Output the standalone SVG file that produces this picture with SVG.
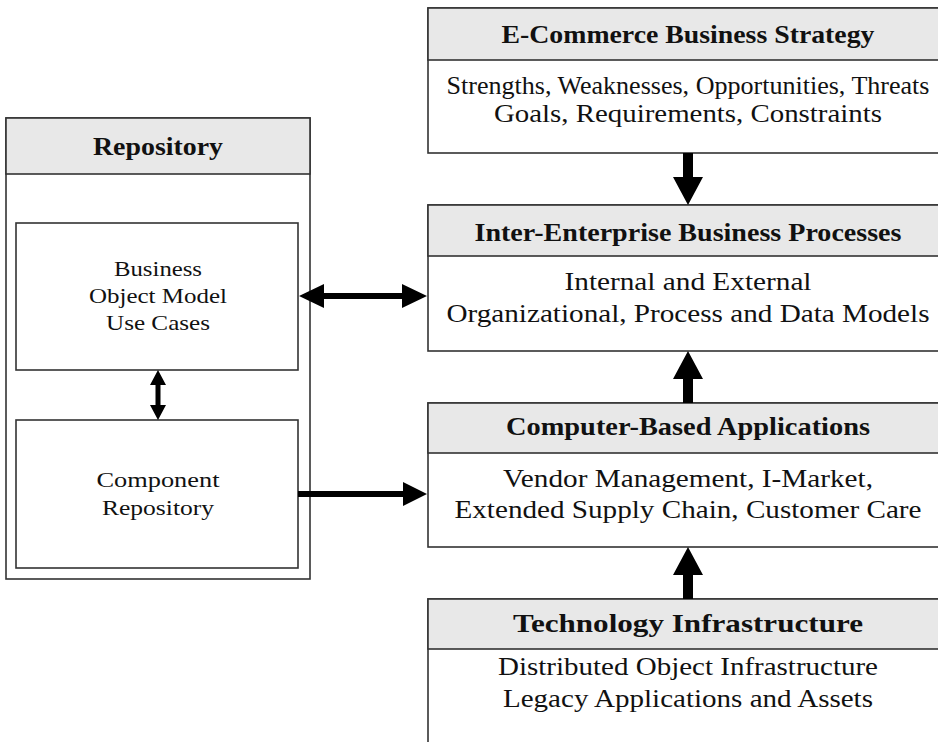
<svg xmlns="http://www.w3.org/2000/svg" width="938" height="742" viewBox="0 0 938 742">
<style>
  .box { fill: #ffffff; stroke: #333333; stroke-width: 1.6; }
  .hdr { fill: #e8e8e8; stroke: #333333; stroke-width: 1.6; }
  .title { font-family: "Liberation Serif", "DejaVu Serif", serif; font-weight: bold; font-size: 25px; fill: #111111; text-anchor: middle; }
  .body { font-family: "Liberation Serif", "DejaVu Serif", serif; font-size: 25px; fill: #111111; text-anchor: middle; }
  .small { font-family: "Liberation Serif", "DejaVu Serif", serif; font-size: 22px; fill: #111111; text-anchor: middle; }
  .arrow { fill: #000000; stroke: none; }
</style>
<rect width="938" height="742" fill="#ffffff"/>

<g id="repository">
  <rect class="box" x="6" y="118" width="304" height="461"/>
  <rect class="hdr" x="6" y="118" width="304" height="56"/>
  <text class="title" x="158" y="155" textLength="130" lengthAdjust="spacingAndGlyphs">Repository</text>
</g>

<g id="business-object-model">
  <rect class="box" x="16" y="223" width="282" height="147"/>
  <text class="small" x="158" y="276" textLength="88" lengthAdjust="spacingAndGlyphs">Business</text>
  <text class="small" x="158" y="303" textLength="138" lengthAdjust="spacingAndGlyphs">Object Model</text>
  <text class="small" x="158" y="330" textLength="104" lengthAdjust="spacingAndGlyphs">Use Cases</text>
</g>

<g id="component-repository">
  <rect class="box" x="16" y="420" width="282" height="148"/>
  <text class="small" x="158" y="487" textLength="123" lengthAdjust="spacingAndGlyphs">Component</text>
  <text class="small" x="158" y="515" textLength="112" lengthAdjust="spacingAndGlyphs">Repository</text>
</g>

<g id="ecommerce-strategy">
  <rect class="box" x="428" y="8" width="520" height="145"/>
  <rect class="hdr" x="428" y="8" width="520" height="52"/>
  <text class="title" x="688" y="43" textLength="373" lengthAdjust="spacingAndGlyphs">E-Commerce Business Strategy</text>
  <text class="body" x="688" y="94" textLength="483" lengthAdjust="spacingAndGlyphs">Strengths, Weaknesses, Opportunities, Threats</text>
  <text class="body" x="688" y="122" textLength="388" lengthAdjust="spacingAndGlyphs">Goals, Requirements, Constraints</text>
</g>

<g id="inter-enterprise">
  <rect class="box" x="428" y="205" width="520" height="146"/>
  <rect class="hdr" x="428" y="205" width="520" height="51"/>
  <text class="title" x="688" y="241" textLength="427" lengthAdjust="spacingAndGlyphs">Inter-Enterprise Business Processes</text>
  <text class="body" x="688" y="290" textLength="247" lengthAdjust="spacingAndGlyphs">Internal and External</text>
  <text class="body" x="688" y="322" textLength="483" lengthAdjust="spacingAndGlyphs">Organizational, Process and Data Models</text>
</g>

<g id="computer-based">
  <rect class="box" x="428" y="403" width="520" height="144"/>
  <rect class="hdr" x="428" y="403" width="520" height="50"/>
  <text class="title" x="688" y="435" textLength="364" lengthAdjust="spacingAndGlyphs">Computer-Based Applications</text>
  <text class="body" x="688" y="487" textLength="370" lengthAdjust="spacingAndGlyphs">Vendor Management, I-Market,</text>
  <text class="body" x="688" y="518" textLength="467" lengthAdjust="spacingAndGlyphs">Extended Supply Chain, Customer Care</text>
</g>

<g id="technology">
  <rect class="box" x="428" y="599" width="520" height="170"/>
  <rect class="hdr" x="428" y="599" width="520" height="50"/>
  <text class="title" x="688" y="632" textLength="350" lengthAdjust="spacingAndGlyphs">Technology Infrastructure</text>
  <text class="body" x="688" y="675" textLength="380" lengthAdjust="spacingAndGlyphs">Distributed Object Infrastructure</text>
  <text class="body" x="688" y="707" textLength="370" lengthAdjust="spacingAndGlyphs">Legacy Applications and Assets</text>
</g>

<g id="connectors">
  <path class="arrow" d="M683,153 H693 V177 H703 L688,205 L673,177 H683 Z"/>
  <path class="arrow" d="M683,403 V379 H673 L688,351 L703,379 H693 V403 Z"/>
  <path class="arrow" d="M683,599 V575 H673 L688,547 L703,575 H693 V599 Z"/>
  <path class="arrow" d="M299,296 L324,284 V293 H402 V284 L427,296 L402,308 V299 H324 V308 Z"/>
  <path class="arrow" d="M298,491 H403 V482 L427,494 L403,506 V497 H298 Z"/>
  <path class="arrow" d="M158,370 L166,385 H160.5 V405 H166 L158,420 L150,405 H155.5 V385 H150 Z"/>
</g>
</svg>
